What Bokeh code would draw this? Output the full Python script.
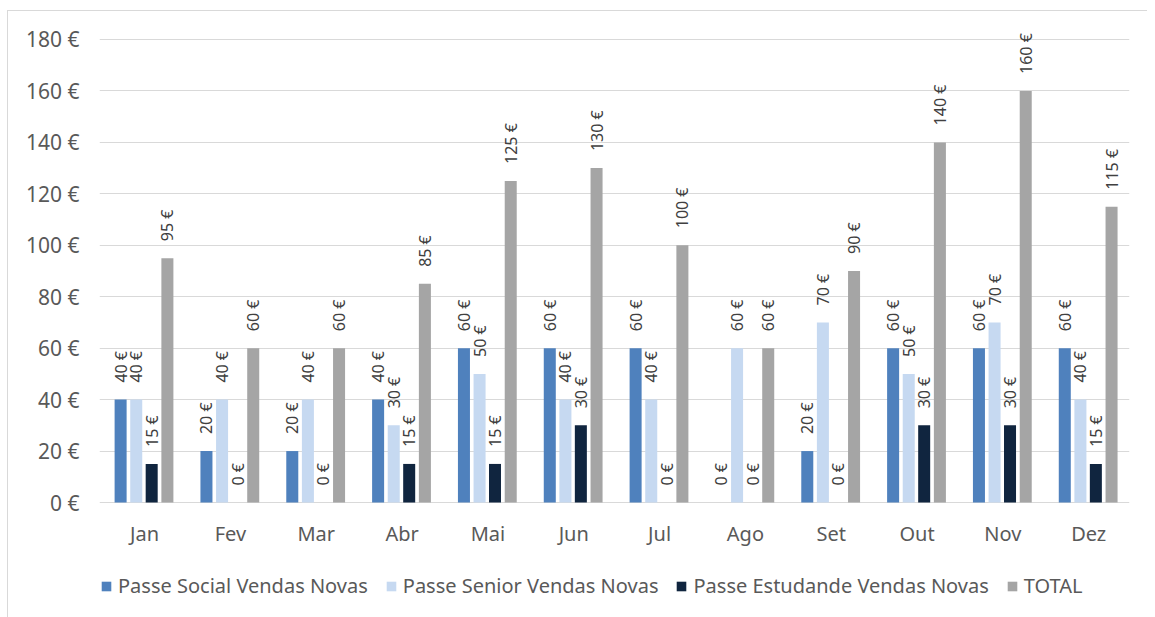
import numpy as np
from bokeh.plotting import figure
from bokeh.models import (ColumnDataSource, FactorRange, Range1d, FixedTicker,
                          Legend, LegendItem, Label)
from bokeh.transform import dodge
from bokeh.core.properties import value
from bokeh.embed import file_html
from bokeh.resources import INLINE

# ---- data ----
months = ["Jan", "Fev", "Mar", "Abr", "Mai", "Jun", "Jul", "Ago", "Set", "Out", "Nov", "Dez"]
social = [40, 20, 20, 40, 60, 60, 60, 0, 20, 60, 60, 60]
senior = [40, 40, 40, 30, 50, 40, 40, 60, 70, 50, 70, 40]
estudante = [15, 0, 0, 15, 15, 30, 0, 0, 0, 30, 30, 15]
total = [95, 60, 60, 85, 125, 130, 100, 60, 90, 140, 160, 115]
series_names = ["Passe Social Vendas Novas", "Passe Senior Vendas Novas",
                "Passe Estudande Vendas Novas", "TOTAL"]
y_ticks = [0, 20, 40, 60, 80, 100, 120, 140, 160, 180]
y_tick_labels = ["0 €", "20 €", "40 €", "60 €", "80 €", "100 €", "120 €", "140 €", "160 €", "180 €"]
title_text = "Figura 6.5 – Evolução mensal das receitas com passes no serviço \u201cMais Porto\u201d"

# ---- style ----
colors = ["#4F81BD", "#C6D9F1", "#10253F", "#A5A5A5"]
offsets = [-0.254, -0.072, 0.108, 0.291]
bar_w = 0.14
FONT = "Noto Sans"
GRID = "#D9D9D9"

src = ColumnDataSource(dict(
    months=months,
    s0=social, s1=senior, s2=estudante, s3=total,
    l0=[f"{v} €" for v in social], l1=[f"{v} €" for v in senior],
    l2=[f"{v} €" for v in estudante], l3=[f"{v} €" for v in total],
))

# frame reaches down to the legend so that the legend is drawn inside it
p = figure(x_range=FactorRange(factors=months, range_padding=0),
           y_range=Range1d(-44.7, 190.1),
           frame_width=1030, frame_height=604,
           min_border_left=99, min_border_right=18,
           min_border_top=13, min_border_bottom=0,
           output_backend="svg", toolbar_location=None,
           background_fill_color=None, border_fill_color=None)
p.styles = {
    "background": ("linear-gradient(#D9D9D9, #D9D9D9) 7px 10px / 100% 1px no-repeat, "
                   "linear-gradient(#D9D9D9, #D9D9D9) 7px 10px / 1px 100% no-repeat, #ffffff"),
}
p.outline_line_color = None

items = []
for i in range(4):
    r = p.vbar(x=dodge("months", offsets[i], range=p.x_range), top=f"s{i}",
               width=bar_w, source=src, fill_color=colors[i], line_color=None)
    p.text(x=dodge("months", offsets[i], range=p.x_range), y=f"s{i}", text=f"l{i}",
           source=src, angle=np.pi / 2, text_align="left", text_baseline="middle",
           y_offset=-17, text_font=value(FONT), text_font_size="16px",
           text_color="#404040")
    items.append(LegendItem(label=series_names[i], renderers=[r]))

# category labels under the baseline
p.text(x=dodge("months", 0.025, range=p.x_range), y=0, text="months", source=src,
       text_align="center", text_baseline="middle", y_offset=31,
       text_font=value(FONT), text_font_size="20px", text_color="#595959")

# axes
p.xaxis.visible = False
p.yaxis.ticker = FixedTicker(ticks=y_ticks)
p.yaxis.major_label_overrides = {t: l for t, l in zip(y_ticks, y_tick_labels)}
p.yaxis.axis_line_color = None
p.yaxis.major_tick_line_color = None
p.yaxis.minor_tick_line_color = None
p.yaxis.major_tick_out = 0
p.yaxis.major_tick_in = 0
p.yaxis.major_label_text_font = FONT
p.yaxis.major_label_text_font_size = "21px"
p.yaxis.major_label_text_color = "#595959"
p.yaxis.major_label_standoff = 20

p.xgrid.grid_line_color = None
p.ygrid.ticker = FixedTicker(ticks=y_ticks)
p.ygrid.grid_line_color = GRID
p.ygrid.grid_line_width = 1

legend = Legend(items=items, orientation="horizontal", location=(1, 18),
                label_text_font=FONT, label_text_font_size="20px",
                label_text_color="#595959", glyph_width=12, glyph_height=12,
                label_standoff=6, spacing=17, padding=0, margin=0,
                border_line_color=None, background_fill_alpha=0)
p.add_layout(legend, "center")

# title (partly cut at top as in the original)
p.add_layout(Label(x=475, y=620, x_units="screen", y_units="screen",
                   text=title_text, text_align="center", text_baseline="alphabetic",
                   text_font="Liberation Sans", text_font_style="bold",
                   text_font_size="27px", text_color="#262626"))

open("out.html", "w").write(file_html(p, INLINE))
